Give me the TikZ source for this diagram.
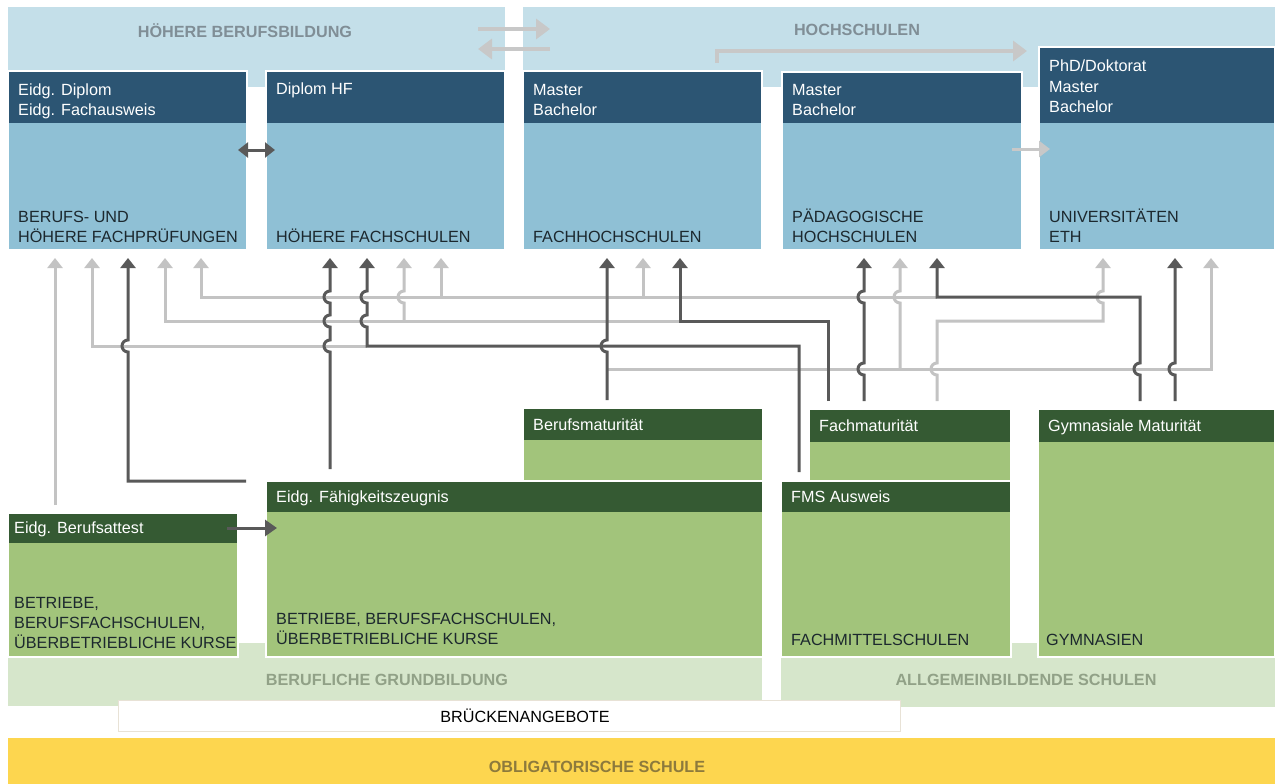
\documentclass[tikz,border=0pt]{standalone}
\usepackage{fontspec}
\setmainfont{Liberation Sans}
\usetikzlibrary{arrows.meta}

\definecolor{bandblau}{RGB}{196,223,233}
\definecolor{boxblau}{RGB}{143,192,213}
\definecolor{kopfblau}{RGB}{44,85,115}
\definecolor{titelblau}{RGB}{128,142,150}
\definecolor{boxgruen}{RGB}{162,196,123}
\definecolor{kopfgruen}{RGB}{53,90,51}
\definecolor{bandgruen}{RGB}{214,230,203}
\definecolor{titelgruen}{RGB}{145,161,135}
\definecolor{gelb}{RGB}{253,214,79}
\definecolor{gelbtext}{RGB}{141,122,60}
\definecolor{liniedunkel}{RGB}{89,89,89}
\definecolor{linienhell}{RGB}{195,195,195}
\definecolor{pfeilgrau}{RGB}{200,200,200}
\definecolor{rahmen}{RGB}{232,226,214}
\definecolor{schrift}{RGB}{28,40,46}

% Bruecke einer senkrechten Linie ueber eine waagrechte
\newcommand{\hopover}[2]{-- (#1,#2+6) arc[start angle=90,end angle=270,radius=6]}
\newcommand{\txt}{\fontsize{16.2}{20}\selectfont}

\begin{document}
\begin{tikzpicture}[x=1pt,y=-1pt,
  box/.style={anchor=north west,inner sep=0pt,outer sep=0pt,draw=white,line width=2pt},
  kopf/.style={anchor=north west,inner sep=0pt,outer sep=0pt},
  band/.style={anchor=north west,inner sep=0pt,outer sep=0pt},
  lab/.style={anchor=base west,inner sep=0pt,align=left,font=\txt},
  titel/.style={inner sep=0pt,font=\txt\bfseries},
  dpfeil/.style={draw=liniedunkel,line width=3pt,-{Triangle[width=15pt,length=10pt]},shorten >=8pt},
  hpfeil/.style={draw=linienhell,line width=3pt,-{Triangle[width=15pt,length=10pt]},shorten >=8pt},
  grosspfeil/.style={draw=pfeilgrau,line width=4pt,-{Triangle[width=20pt,length=14pt]}}]
\fill[white] (0,0) rectangle (1283,784);
\useasboundingbox (0,0) rectangle (1283,784);

% Baender
\node[band,fill=bandblau,minimum width=497pt,minimum height=80pt] (hbb) at (8,7) {};
\node[band,fill=bandblau,minimum width=752pt,minimum height=80pt] (hs) at (523,7) {};
\node[band,fill=bandgruen,minimum width=754pt,minimum height=63pt] (bgb) at (8,643) {};
\node[band,fill=bandgruen,minimum width=494pt,minimum height=64pt] (abs) at (781,643) {};
\node[titel,text=titelblau] (hbbt) at (245,31) {HÖHERE BERUFSBILDUNG};
\node[titel,text=titelblau] (hst) at (857,30) {HOCHSCHULEN};
\node[titel,text=titelgruen] (bgbt) at (387,680) {BERUFLICHE GRUNDBILDUNG};
\node[titel,text=titelgruen] (abst) at (1026,680) {ALLGEMEINBILDENDE SCHULEN};

% Tertiaerstufe
\node[box,fill=boxblau,minimum width=239pt,minimum height=179pt] (hfp) at (8,71) {};
\node[box,fill=boxblau,minimum width=239pt,minimum height=179pt] (hf) at (266,71) {};
\node[box,fill=boxblau,minimum width=239pt,minimum height=179pt] (fh) at (523,71) {};
\node[box,fill=boxblau,minimum width=240pt,minimum height=178pt] (ph) at (782,72) {};
\node[box,fill=boxblau,minimum width=236pt,minimum height=203pt] (uni) at (1039,47) {};
\node[kopf,fill=kopfblau,minimum width=237pt,minimum height=51pt] (hfpk) at (9,72) {};
\node[kopf,fill=kopfblau,minimum width=237pt,minimum height=51pt] (hfk) at (267,72) {};
\node[kopf,fill=kopfblau,minimum width=237pt,minimum height=51pt] (fhk) at (524,72) {};
\node[kopf,fill=kopfblau,minimum width=238pt,minimum height=50pt] (phk) at (783,73) {};
\node[kopf,fill=kopfblau,minimum width=234pt,minimum height=75pt] (unik) at (1040,48) {};
\node[lab,text=white] (hfpa) at (18,115) {Eidg. Diplom\\Eidg. Fachausweis};
\node[lab,text=white] (hfa) at (276,95) {Diplom HF};
\node[lab,text=white] (fha) at (533,115) {Master\\Bachelor};
\node[lab,text=white] (pha) at (792,115) {Master\\Bachelor};
\node[lab,text=white] (unia) at (1049,112) {PhD/Doktorat\\Master\\Bachelor};
\node[lab,text=schrift] (hfpt) at (18,242) {BERUFS- UND\\HÖHERE FACHPRÜFUNGEN};
\node[lab,text=schrift] (hft) at (276,242) {HÖHERE FACHSCHULEN};
\node[lab,text=schrift] (fht) at (533,242) {FACHHOCHSCHULEN};
\node[lab,text=schrift] (pht) at (792,242) {PÄDAGOGISCHE\\HOCHSCHULEN};
\node[lab,text=schrift] (unit) at (1049,242) {UNIVERSITÄTEN\\ETH};

% Sekundarstufe II
\node[box,fill=boxgruen,minimum width=240pt,minimum height=73pt] (bm) at (523,408) {};
\node[box,fill=boxgruen,minimum width=202pt,minimum height=72pt] (fm) at (809,409) {};
\node[box,fill=boxgruen,minimum width=230pt,minimum height=144pt] (eba) at (8,513) {};
\node[box,fill=boxgruen,minimum width=497pt,minimum height=176pt] (efz) at (266,481) {};
\node[box,fill=boxgruen,minimum width=230pt,minimum height=176pt] (fms) at (781,481) {};
\node[box,fill=boxgruen,minimum width=237pt,minimum height=248pt] (gym) at (1038,409) {};
\node[kopf,fill=kopfgruen,minimum width=238pt,minimum height=31pt] (bmk) at (524,409) {};
\node[kopf,fill=kopfgruen,minimum width=200pt,minimum height=32pt] (fmk) at (810,410) {};
\node[kopf,fill=kopfgruen,minimum width=228pt,minimum height=29pt] (ebak) at (9,514) {};
\node[kopf,fill=kopfgruen,minimum width=495pt,minimum height=30pt] (efzk) at (267,482) {};
\node[kopf,fill=kopfgruen,minimum width=228pt,minimum height=30pt] (fmsk) at (782,482) {};
\node[kopf,fill=kopfgruen,minimum width=235pt,minimum height=32pt] (gymk) at (1039,410) {};
\node[lab,text=white] (bma) at (533,430) {Berufsmaturität};
\node[lab,text=white] (fma) at (819,431) {Fachmaturität};
\node[lab,text=white] (ebaa) at (14,533) {Eidg. Berufsattest};
\node[lab,text=white] (efza) at (276,502) {Eidg. Fähigkeitszeugnis};
\node[lab,text=white] (fmsa) at (791,502) {FMS Ausweis};
\node[lab,text=white] (gyma) at (1048,431) {Gymnasiale Maturität};
\node[lab,text=schrift] (ebat) at (14,648) {BETRIEBE,\\BERUFSFACHSCHULEN,\\ÜBERBETRIEBLICHE KURSE};
\node[lab,text=schrift] (efzt) at (276,644) {BETRIEBE, BERUFSFACHSCHULEN,\\ÜBERBETRIEBLICHE KURSE};
\node[lab,text=schrift] (fmst) at (791,645) {FACHMITTELSCHULEN};
\node[lab,text=schrift] (gymt) at (1046,645) {GYMNASIEN};

% Bruecken und obligatorische Schule
\node[band,fill=white,draw=rahmen,line width=1pt,minimum width=782pt,minimum height=31pt] (brueck) at (118,700) {};
\node[inner sep=0pt,font=\txt,text=black] (bruecka) at (525,716) {BRÜCKENANGEBOTE};
\node[band,fill=gelb,minimum width=1267pt,minimum height=46pt] (oblig) at (8,738) {};
\node[titel,text=gelbtext] (obliga) at (597,767) {OBLIGATORISCHE SCHULE};

% Pfeile in den Baendern
\draw[grosspfeil,shorten <=-27pt,shorten >=-27pt] (hbb.east |- 0,29) -- (hs.west |- 0,29);
\draw[grosspfeil,shorten <=-27pt,shorten >=-27pt] (hs.west |- 0,49) -- (hbb.east |- 0,49);
\draw[grosspfeil,shorten <=8pt,shorten >=12pt] (717,0 |- fh.north) -- (717,51) -- (uni.north west |- 0,51);
\draw[grosspfeil,line width=3pt,-{Triangle[width=16pt,length=11pt]},shorten <=-10pt,shorten >=-11pt] (ph.east |- 0,149) -- (uni.west |- 0,149);
\draw[draw=liniedunkel,line width=3pt,{Triangle[width=15pt,length=10pt]}-{Triangle[width=15pt,length=10pt]},shorten <=-9pt,shorten >=-9pt] (hfp.east |- 0,150) -- (hf.west |- 0,150);
\draw[draw=liniedunkel,line width=3pt,-{Triangle[width=16pt,length=12pt]},shorten <=-11pt,shorten >=-11pt] (eba.east |- 0,528) -- (efz.west |- 0,528);

% helle Uebergaenge
\draw[hpfeil,shorten <=8pt] (55,0 |- eba.north) -- (55,0 |- hfp.south);
\draw[hpfeil] (367,346) -- (92,346) -- (92,0 |- hfp.south);
\draw[hpfeil] (680,321) -- (165,321) -- (165,0 |- hfp.south);
\draw[hpfeil] (404,321) \hopover{404}{297} -- (404,0 |- hf.south);
\draw[hpfeil] (937,297) -- (201,297) -- (201,0 |- hfp.south);
\draw[hpfeil] (441,297) -- (441,0 |- hf.south);
\draw[hpfeil] (643,297) -- (643,0 |- fh.south);
\draw[hpfeil] (607,369) -- (1211,369) -- (1211,0 |- uni.south);
\draw[hpfeil] (900,369) \hopover{900}{297} -- (900,0 |- ph.south);
\draw[hpfeil,shorten <=8pt] (937,0 |- fm.north) \hopover{937}{369} -- (937,321) -- (1103,321) \hopover{1103}{297} -- (1103,0 |- uni.south);

% dunkle Uebergaenge
\draw[dpfeil,shorten <=10pt] ([xshift=-10pt]efz.north west) -- (128,0 |- efz.north west) \hopover{128}{346} -- (128,0 |- hfp.south);
\draw[dpfeil,shorten <=12pt] (330,0 |- efz.north) \hopover{330}{346} \hopover{330}{321} \hopover{330}{297} -- (330,0 |- hf.south);
\draw[dpfeil,shorten <=9pt] (799,0 |- fms.north) -- (799,346) -- (367,346) \hopover{367}{321} \hopover{367}{297} -- (367,0 |- hf.south);
\draw[dpfeil,shorten <=8pt] (607,0 |- bm.north) \hopover{607}{346} -- (607,0 |- fh.south);
\draw[dpfeil,shorten <=8pt] (828,0 |- fm.north) -- (828,321) -- (680,321) -- (680,0 |- fh.south);
\draw[dpfeil,shorten <=8pt] (864,0 |- fm.north) \hopover{864}{369} \hopover{864}{297} -- (864,0 |- ph.south);
\draw[dpfeil,shorten <=8pt] (1140,0 |- gym.north) \hopover{1140}{369} -- (1140,297) -- (937,297) -- (937,0 |- ph.south);
\draw[dpfeil,shorten <=8pt] (1175,0 |- gym.north) \hopover{1175}{369} -- (1175,0 |- uni.south);
\end{tikzpicture}
\end{document}
